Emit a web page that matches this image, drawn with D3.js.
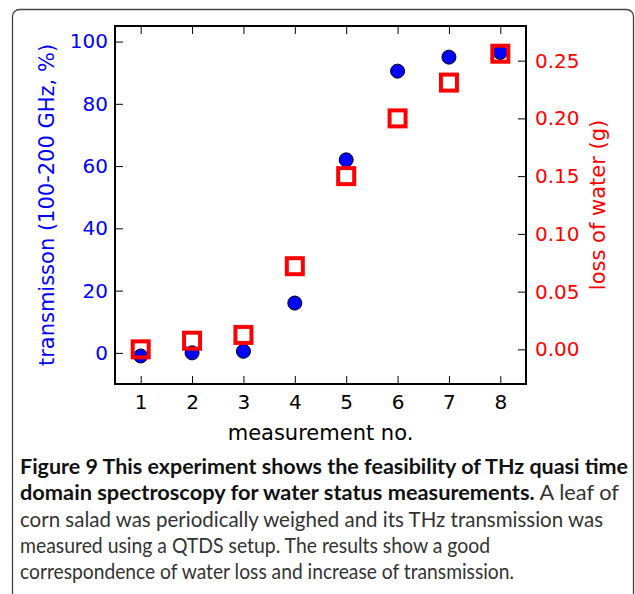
<!DOCTYPE html>
<html>
<head>
<meta charset="utf-8">
<script src="https://cdn.jsdelivr.net/npm/d3@7"></script>
<style>
  html, body { margin: 0; padding: 0; background: #fff; }
  svg { display: block; }
</style>
</head>
<body>
<div id="chart"></div>
<script>
// data
const measurements = [1, 2, 3, 4, 5, 6, 7, 8];
const transmission = [-1, 0, 0.5, 16, 62, 90.5, 95, 96.5];
const waterLoss = [0.0, 0.0075, 0.0125, 0.072, 0.15, 0.2, 0.231, 0.256];
const xTicks = [1, 2, 3, 4, 5, 6, 7, 8];
const leftTicks = [0, 20, 40, 60, 80, 100];
const rightTicks = [0, 0.05, 0.1, 0.15, 0.2, 0.25];

const captionLines = [
  [['Figure 9 This experiment shows the feasibility of THz quasi time', true]],
  [['domain spectroscopy for water status measurements.', true], [' A leaf of', false]],
  [['corn salad was periodically weighed and its THz transmission was', false]],
  [['measured using a QTDS setup. The results show a good', false]],
  [['correspondence of water loss and increase of transmission.', false]]
];
const captionEnds = [628, 619, 603, 490, 514];

const width = 635,
  height = 594;
const plot = { left: 115, right: 526, top: 26, bottom: 384 };

const blue = '#0000ff';
const red = '#ff0000';
const font = 'DejaVu Sans, sans-serif';

const svg = d3
  .select('#chart')
  .append('svg')
  .attr('width', width)
  .attr('height', height);

// rounded frame round the whole figure
svg
  .append('rect')
  .attr('x', 12.5)
  .attr('y', 9.5)
  .attr('width', 621)
  .attr('height', 640)
  .attr('rx', 7)
  .attr('fill', 'none')
  .attr('stroke', '#444')
  .attr('stroke-width', 1.3);

const x = d3.scaleLinear().domain([0.5, 8.5]).range([plot.left, plot.right]);
const yLeft = d3.scaleLinear().domain([-10, 105]).range([plot.bottom, plot.top]);
const yRight = d3.scaleLinear().domain([-0.03, 0.28]).range([plot.bottom, plot.top]);

function styleAxis(g, color) {
  g.select('.domain').remove();
  g.selectAll('.tick line').attr('stroke', '#000').attr('stroke-width', 1);
  g.selectAll('.tick text')
    .attr('fill', color)
    .style('font-family', font)
    .style('font-size', '20px');
}

// bottom axis
svg
  .append('g')
  .attr('transform', `translate(0,${plot.bottom})`)
  .call(d3.axisBottom(x).tickValues(xTicks).tickSizeInner(-8).tickSizeOuter(0).tickPadding(11))
  .call(g => styleAxis(g, '#000'));

// top axis, ticks only
svg
  .append('g')
  .attr('transform', `translate(0,${plot.top})`)
  .call(d3.axisTop(x).tickValues(xTicks).tickSizeInner(-8).tickSizeOuter(0).tickFormat(''))
  .call(g => styleAxis(g, '#000'));

// left axis (transmission)
svg
  .append('g')
  .attr('transform', `translate(${plot.left},0)`)
  .call(d3.axisLeft(yLeft).tickValues(leftTicks).tickSizeInner(-8).tickSizeOuter(0).tickPadding(7))
  .call(g => styleAxis(g, blue));

// right axis (loss of water)
svg
  .append('g')
  .attr('transform', `translate(${plot.right},0)`)
  .call(
    d3
      .axisRight(yRight)
      .tickValues(rightTicks)
      .tickSizeInner(-8)
      .tickSizeOuter(0)
      .tickPadding(9)
      .tickFormat(d3.format('.2f'))
  )
  .call(g => styleAxis(g, red));

// plot frame
svg
  .append('rect')
  .attr('x', plot.left)
  .attr('y', plot.top)
  .attr('width', plot.right - plot.left)
  .attr('height', plot.bottom - plot.top)
  .attr('fill', 'none')
  .attr('stroke', '#000')
  .attr('stroke-width', 2);

// blue dots
svg
  .append('g')
  .selectAll('circle')
  .data(measurements)
  .join('circle')
  .attr('cx', d => x(d))
  .attr('cy', (d, i) => yLeft(transmission[i]))
  .attr('r', 7)
  .attr('fill', blue)
  .attr('stroke', '#000')
  .attr('stroke-width', 1);

// red hollow squares on top
const sq = 16;
svg
  .append('g')
  .selectAll('rect')
  .data(measurements)
  .join('rect')
  .attr('x', d => x(d) - sq / 2)
  .attr('y', (d, i) => yRight(waterLoss[i]) - sq / 2)
  .attr('width', sq)
  .attr('height', sq)
  .attr('fill', 'none')
  .attr('stroke', red)
  .attr('stroke-width', 4);

// axis titles
svg
  .append('text')
  .attr('x', (plot.left + plot.right) / 2)
  .attr('y', 440)
  .attr('text-anchor', 'middle')
  .style('font-family', font)
  .style('font-size', '21px')
  .attr('fill', '#000')
  .text('measurement no.');

svg
  .append('text')
  .attr('transform', `translate(54,${(plot.top + plot.bottom) / 2}) rotate(-90)`)
  .attr('text-anchor', 'middle')
  .style('font-family', font)
  .style('font-size', '21px')
  .attr('fill', blue)
  .text('transmisson (100-200 GHz, %)');

svg
  .append('text')
  .attr('transform', `translate(605,${(plot.top + plot.bottom) / 2}) rotate(-90)`)
  .attr('text-anchor', 'middle')
  .style('font-family', font)
  .style('font-size', '21px')
  .attr('fill', red)
  .text('loss of water (g)');

// caption
const capX = 20;
captionLines.forEach((parts, i) => {
  const t = svg
    .append('text')
    .attr('x', capX)
    .attr('y', 474 + i * 26.3)
    .attr('textLength', captionEnds[i] - capX)
    .attr('lengthAdjust', 'spacingAndGlyphs')
    .style('font-family', 'Lato, "Open Sans", sans-serif')
    .style('font-size', '21px');
  parts.forEach(([s, bold]) => {
    t.append('tspan')
      .attr('font-weight', bold ? 700 : 400)
      .attr('fill', bold ? '#111' : '#333')
      .style('white-space', 'pre')
      .text(s);
  });
});
</script>
</body>
</html>
